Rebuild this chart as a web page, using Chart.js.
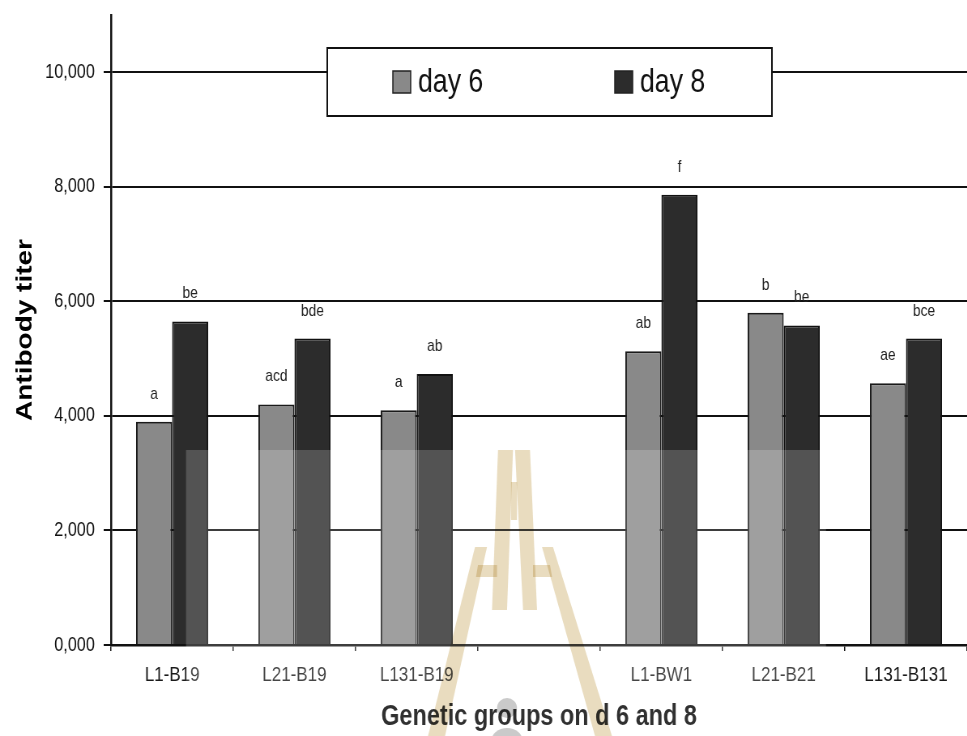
<!DOCTYPE html>
<html>
<head>
<meta charset="utf-8">
<title>Antibody titer</title>
<script src="https://cdn.jsdelivr.net/npm/chart.js@4.4.0/dist/chart.umd.min.js"></script>
<style>
    html, body { margin:0; padding:0; background:#fff; overflow:hidden; width:967px; height:736px; }
    /* the original figure is squeezed horizontally, so the canvas is drawn wide and narrowed */
    #wrap { width:1194px; height:736px; transform:scaleX(0.81); transform-origin:0 0; }
</style>
</head>
<body>
<div id="wrap"><canvas id="chart" width="1194" height="736"></canvas></div>
<script>
const SX = 0.81;
const FONT = "'Liberation Sans', Arial, sans-serif";

// data
const groups = ['L1-B19', 'L21-B19', 'L131-B19', '', 'L1-BW1', 'L21-B21', 'L131-B131'];
const day6 = [3900, 4200, 4100, null, 5130, 5800, 4570];
const day8 = [5650, 5350, 4730, null, 7860, 5580, 5350];
const day6Letters = ['a', 'acd', 'a', '', 'ab', 'b', 'ae'];
const day8Letters = ['be', 'bde', 'ab', '', 'f', 'be', 'bce'];
const yTicks = [0, 2000, 4000, 6000, 8000, 10000];
const yMax = 11000;

function fmtTick(v){
    return v === 0 ? '0,000' : v.toLocaleString('en-US');
}

// significance letters above every bar
const lettersPlugin = {
    id: 'letters',
    afterDatasetsDraw(chart){
        const ctx = chart.ctx;
        ctx.save();
        ctx.font = '17px ' + FONT;
        ctx.fillStyle = '#222';
        ctx.textAlign = 'center';
        ctx.textBaseline = 'alphabetic';
        [day6Letters, day8Letters].forEach((letters, di) => {
            chart.getDatasetMeta(di).data.forEach((bar, i) => {
                if (!letters[i]) { return; }
                ctx.fillText(letters[i], bar.x, bar.y - 23);
            });
        });
        ctx.restore();
    }
};

// faded watermark sitting over the lower middle of the figure (coords in screen px)
const watermarkPlugin = {
    id: 'watermark',
    afterDatasetsDraw(chart){
        const ctx = chart.ctx;
        ctx.save();
        ctx.scale(1 / SX, 1);
        ctx.fillStyle = 'rgba(255,255,255,0.19)';
        ctx.fillRect(186, 450, 640, 286);
        ctx.restore();
    },
    afterDraw(chart){
        const ctx = chart.ctx;
        const shapes = [
            [[498,450],[513,450],[507,610],[492,610]],
            [[515,450],[530,450],[537,610],[523,610]],
            [[511,482],[517,482],[517,520],[511,520]],
            [[475,547],[487,547],[445,736],[428,736]],
            [[542,547],[553,547],[612,736],[595,736]],
            [[478,565],[497,565],[497,577],[476,577]],
            [[533,565],[550,565],[552,577],[533,577]]
        ];
        ctx.save();
        ctx.scale(1 / SX, 1);
        ctx.globalCompositeOperation = 'multiply';
        ctx.fillStyle = '#e9dcbf';
        shapes.forEach(pts => {
            ctx.beginPath();
            pts.forEach(([x, y], k) => k ? ctx.lineTo(x, y) : ctx.moveTo(x, y));
            ctx.closePath();
            ctx.fill();
        });
        ctx.fillStyle = '#cacaca';
        ctx.beginPath(); ctx.arc(507, 708, 10, 0, Math.PI * 2); ctx.fill();
        ctx.beginPath(); ctx.ellipse(507, 742, 16, 14, 0, 0, Math.PI * 2); ctx.fill();
        ctx.restore();
    }
};

// boxed legend inside the plot, covering the 10,000 grid line
const boxLegendPlugin = {
    id: 'boxLegend',
    afterDraw(chart){
        const ctx = chart.ctx;
        const sw = [485, 759];
        ctx.save();
        ctx.fillStyle = '#fff';
        ctx.fillRect(404, 48, 549, 68);
        ctx.strokeStyle = '#111';
        ctx.lineWidth = 2;
        ctx.strokeRect(404, 48, 549, 68);
        ctx.font = '33px ' + FONT;
        ctx.textBaseline = 'alphabetic';
        ctx.textAlign = 'left';
        chart.data.datasets.forEach((ds, i) => {
            ctx.fillStyle = ds.backgroundColor;
            ctx.fillRect(sw[i], 71, 22, 22);
            ctx.lineWidth = 1.5;
            ctx.strokeStyle = '#222';
            ctx.strokeRect(sw[i], 71, 22, 22);
            ctx.fillStyle = '#111';
            ctx.fillText(ds.label, sw[i] + 31, 92);
        });
        ctx.restore();
    }
};

new Chart(document.getElementById('chart'), {
    type: 'bar',
    data: {
        labels: groups,
        datasets: [
            { label: 'day 6', data: day6, backgroundColor: '#898989', borderColor: '#1a1a1a', borderWidth: 2 },
            { label: 'day 8', data: day8, backgroundColor: '#2c2c2c', borderColor: '#111', borderWidth: 2 }
        ]
    },
    options: {
        responsive: false,
        maintainAspectRatio: false,
        devicePixelRatio: 1,
        animation: false,
        layout: { padding: { top: 15, left: 0, right: 0, bottom: 0 } },
        datasets: { bar: { categoryPercentage: 0.59, barPercentage: 1 } },
        plugins: {
            legend: { display: false },
            tooltip: { enabled: false }
        },
        scales: {
            x: {
                afterFit: s => { s.height = 91; s.paddingLeft = 0; s.paddingRight = 0; },
                grid: { drawOnChartArea: false, drawTicks: true, tickLength: 6, color: '#111', lineWidth: 1.5, offset: true },
                border: { color: '#111', width: 2.5 },
                ticks: { color: '#1a1a1a', font: { family: FONT, size: 21 }, padding: 12, maxRotation: 0, autoSkip: false },
                title: {
                    display: true,
                    text: 'Genetic groups on d 6 and 8',
                    color: '#000',
                    font: { family: FONT, size: 29, weight: 'bold', lineHeight: 1.2 },
                    padding: { top: 0, bottom: 2 }
                }
            },
            y: {
                min: 0,
                max: yMax,
                afterFit: s => { s.width = 137; s.paddingTop = 0; s.paddingBottom = 0; },
                afterBuildTicks: s => { s.ticks = yTicks.map(v => ({ value: v })); },
                grid: { color: '#111', lineWidth: 2, tickLength: 9 },
                border: { color: '#111', width: 2.5 },
                ticks: { color: '#111', font: { family: FONT, size: 20 }, padding: 11, callback: v => fmtTick(v) },
                title: {
                    display: true,
                    text: 'Antibody titer',
                    color: '#000',
                    font: { family: FONT, size: 28, weight: 'bold', lineHeight: 1.2 },
                    padding: { top: 14, bottom: 0 }
                }
            }
        }
    },
    plugins: [watermarkPlugin, lettersPlugin, boxLegendPlugin]
});
</script>
</body>
</html>
